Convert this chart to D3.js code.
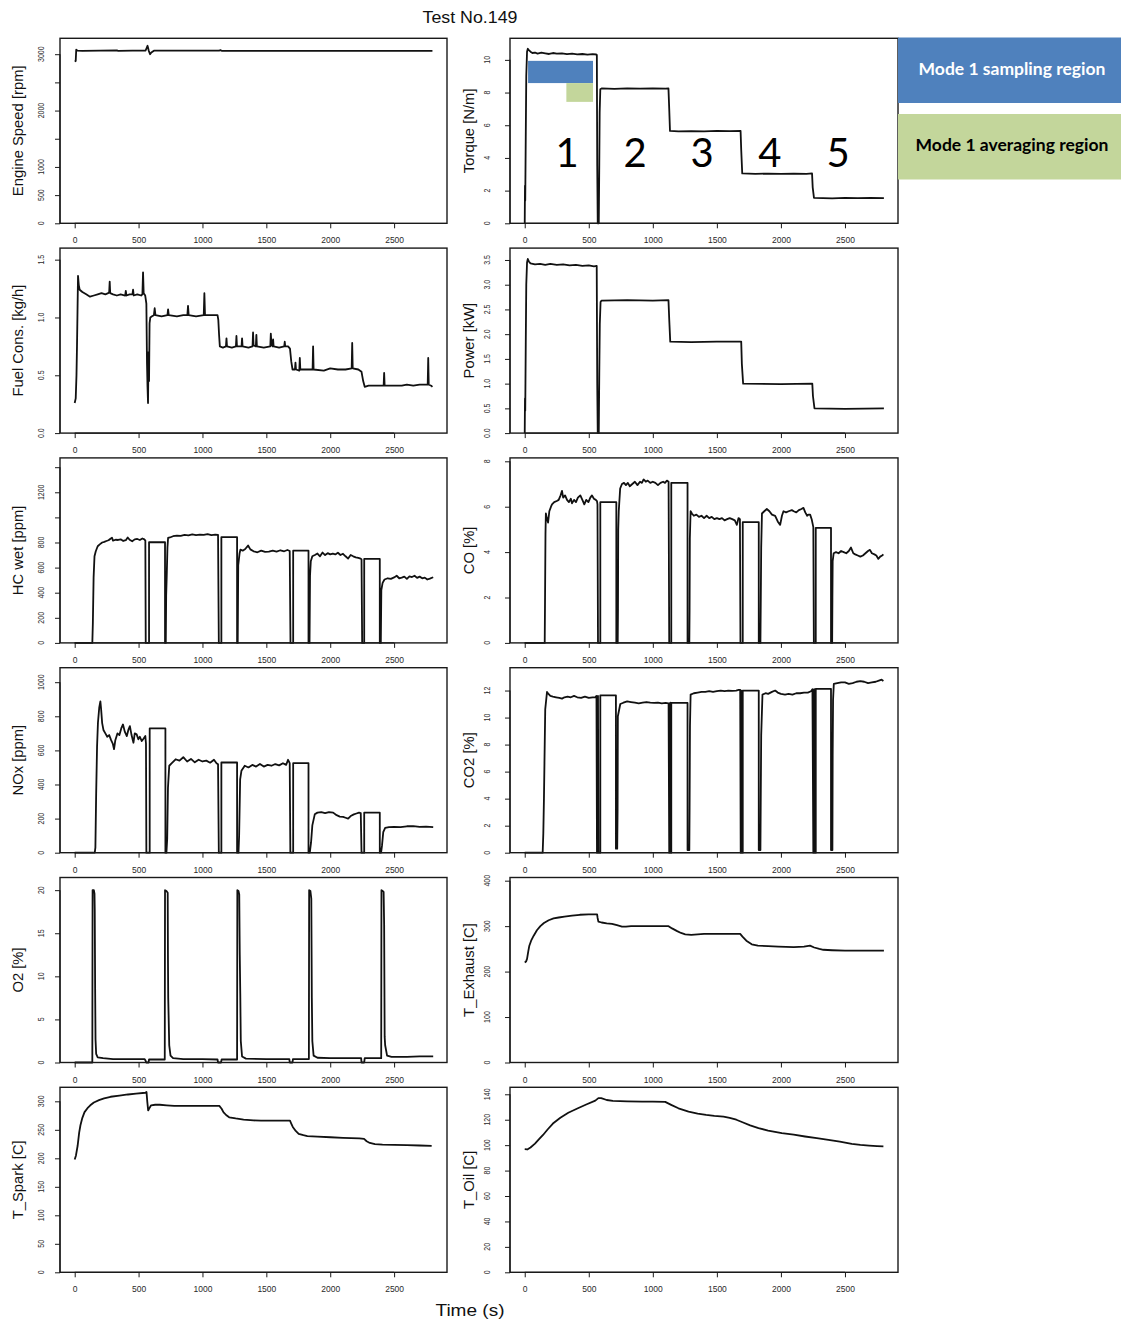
<!DOCTYPE html>
<html><head><meta charset="utf-8">
<script src="https://cdn.jsdelivr.net/npm/d3@7"></script>
<style>body{margin:0;background:#fff}svg{display:block}</style>
</head><body>
<svg id="chart" width="1121" height="1322"></svg>
<script>
// ---- time axis ----
const timeTicks = [0, 500, 1000, 1500, 2000, 2500];

// ---- measured channels, [time s, value] ----
const engineSpeed = [[0,2870],[8,2880],[12,3080],[20,3065],[60,3060],[200,3062],[330,3068],[340,3060],[450,3062],[555,3065],[570,3150],[580,3060],[590,3000],[600,3030],[620,3062],[1130,3062],[1140,3072],[1150,3060],[2800,3060]];

const torque = [[0,0],[2,2.3],[4,1.4],[8,5.3],[12,9.0],[18,10.5],[24,10.68],[32,10.6],[45,10.5],[60,10.42],[80,10.45],[100,10.38],[130,10.44],[160,10.4],[190,10.36],[220,10.42],[250,10.38],[290,10.4],[330,10.35],[370,10.38],[410,10.34],[450,10.36],[490,10.32],[530,10.35],[558,10.33],[563,10.3],[566,3.5],[570,0],[578,0],[582,3.6],[585,6.8],[590,8.2],[600,8.25],[700,8.23],[800,8.26],[900,8.24],[1000,8.25],[1100,8.24],[1122,8.25],[1128,7.0],[1134,5.65],[1200,5.62],[1300,5.64],[1400,5.63],[1500,5.65],[1600,5.64],[1685,5.66],[1690,4.5],[1698,3.05],[1800,3.02],[1900,3.04],[2000,3.03],[2100,3.04],[2200,3.03],[2243,3.05],[2248,2.2],[2258,1.55],[2400,1.53],[2500,1.55],[2600,1.54],[2700,1.55],[2804,1.54]];

const fuelCons = [[0,0.26],[8,0.3],[14,0.5],[18,0.75],[22,1.05],[26,1.36],[32,1.28],[39,1.24],[60,1.22],[90,1.2],[120,1.18],[150,1.19],[180,1.2],[210,1.21],[240,1.2],[262,1.21],[270,1.22],[274,1.31],[278,1.21],[300,1.2],[330,1.19],[360,1.2],[395,1.19],[400,1.23],[405,1.19],[430,1.2],[452,1.2],[457,1.24],[462,1.19],[490,1.2],[520,1.19],[530,1.2],[535,1.39],[540,1.21],[552,1.19],[561,1.12],[566,0.6],[570,0.4],[574,0.26],[578,0.7],[582,0.45],[586,0.95],[592,1.0],[605,1.01],[620,1.02],[626,1.08],[632,1.02],[680,1.01],[726,1.02],[731,1.07],[736,1.02],[800,1.01],[850,1.02],[882,1.02],[887,1.1],[892,1.02],[950,1.01],[1010,1.02],[1015,1.21],[1020,1.02],[1080,1.02],[1118,1.02],[1124,0.98],[1130,0.85],[1136,0.75],[1160,0.74],[1184,0.75],[1188,0.82],[1192,0.75],[1230,0.74],[1262,0.75],[1266,0.84],[1270,0.75],[1306,0.75],[1310,0.82],[1314,0.75],[1360,0.74],[1392,0.75],[1396,0.87],[1400,0.76],[1418,0.75],[1422,0.85],[1426,0.75],[1480,0.74],[1531,0.75],[1535,0.86],[1540,0.77],[1549,0.75],[1553,0.81],[1557,0.75],[1600,0.74],[1640,0.75],[1644,0.79],[1648,0.75],[1670,0.75],[1685,0.73],[1695,0.62],[1705,0.55],[1724,0.55],[1728,0.61],[1732,0.55],[1758,0.54],[1762,0.65],[1766,0.55],[1810,0.55],[1862,0.55],[1866,0.75],[1870,0.55],[1950,0.54],[2000,0.56],[2060,0.55],[2120,0.55],[2168,0.56],[2172,0.78],[2176,0.56],[2220,0.55],[2245,0.53],[2258,0.45],[2270,0.4],[2300,0.41],[2350,0.41],[2418,0.41],[2422,0.52],[2426,0.41],[2500,0.41],[2560,0.41],[2600,0.42],[2650,0.41],[2700,0.42],[2763,0.42],[2767,0.65],[2771,0.42],[2790,0.41],[2800,0.4]];

const power = [[0,0],[2,0.7],[4,0.45],[8,1.8],[12,3.0],[18,3.45],[24,3.52],[32,3.47],[45,3.43],[80,3.41],[120,3.42],[160,3.4],[200,3.42],[250,3.4],[300,3.41],[350,3.39],[400,3.4],[450,3.38],[500,3.39],[540,3.37],[562,3.38],[566,1.0],[570,0],[578,0],[582,1.2],[586,2.2],[592,2.65],[600,2.68],[800,2.69],[1000,2.68],[1122,2.69],[1128,2.3],[1136,1.85],[1300,1.84],[1500,1.85],[1690,1.85],[1695,1.4],[1705,1.0],[2000,0.99],[2245,1.0],[2250,0.75],[2262,0.5],[2500,0.49],[2804,0.5]];

const hcWet = [[0,0],[138,0],[142,150],[148,520],[155,690],[165,730],[180,770],[196,785],[215,800],[232,805],[248,812],[265,818],[280,830],[292,838],[300,815],[320,822],[340,820],[360,825],[380,812],[400,818],[415,840],[430,822],[450,810],[470,825],[490,828],[510,820],[530,832],[545,825],[553,815],[556,0],[582,0],[582,802],[707,802],[707,0],[713,0],[716,380],[720,520],[726,760],[731,836],[745,840],[770,850],[800,855],[830,852],[860,860],[890,856],[920,864],[950,858],[980,862],[1010,860],[1040,866],[1070,858],[1100,862],[1122,860],[1128,0],[1148,0],[1148,842],[1271,842],[1271,0],[1276,0],[1280,620],[1290,710],[1297,743],[1315,735],[1335,748],[1357,776],[1375,745],[1400,730],[1430,722],[1460,735],[1490,725],[1520,728],[1550,735],[1580,727],[1610,738],[1640,730],[1665,740],[1683,732],[1689,0],[1710,0],[1710,735],[1830,735],[1830,0],[1838,0],[1842,540],[1848,650],[1860,690],[1880,700],[1900,712],[1920,690],[1940,720],[1960,700],[1980,715],[2000,705],[2020,712],[2040,705],[2060,718],[2080,700],[2100,710],[2120,690],[2140,672],[2160,700],[2180,690],[2200,682],[2220,678],[2238,672],[2245,665],[2250,0],[2266,0],[2266,669],[2388,669],[2388,0],[2396,0],[2400,420],[2410,478],[2425,505],[2450,515],[2475,510],[2500,522],[2520,535],[2540,515],[2560,520],[2580,528],[2600,510],[2620,530],[2640,525],[2660,535],[2680,518],[2700,528],[2720,515],[2740,520],[2760,505],[2780,512],[2806,523]];

const coPct = [[0,0],[156,0],[158,1.5],[162,4.8],[165,5.7],[172,5.5],[182,5.3],[192,5.8],[205,6.0],[213,6.1],[230,6.2],[250,6.25],[265,6.3],[280,6.5],[291,6.7],[300,6.4],[315,6.5],[330,6.3],[345,6.2],[360,6.35],[369,6.15],[385,6.3],[400,6.2],[415,6.4],[434,6.5],[450,6.3],[465,6.1],[480,6.3],[497,6.2],[512,6.4],[525,6.5],[540,6.35],[555,6.3],[564,6.25],[568,6.1],[572,0],[590,0],[590,6.2],[715,6.2],[715,0],[726,0],[728,1.5],[730,5.0],[734,5.8],[745,6.8],[759,7.0],[775,7.05],[790,6.95],[805,7.05],[820,6.9],[840,7.0],[860,7.1],[880,6.95],[900,7.1],[915,7.05],[928,7.2],[945,7.1],[960,7.15],[980,7.05],[1000,7.1],[1020,7.05],[1040,6.95],[1060,7.05],[1080,7.1],[1095,7.05],[1110,7.15],[1123,7.1],[1128,0],[1144,0],[1144,7.05],[1271,7.05],[1271,0],[1285,0],[1287,1.5],[1289,4.6],[1295,5.8],[1305,5.7],[1320,5.6],[1340,5.65],[1360,5.55],[1380,5.6],[1400,5.5],[1420,5.6],[1440,5.5],[1460,5.55],[1480,5.45],[1500,5.5],[1520,5.45],[1540,5.5],[1560,5.4],[1580,5.45],[1600,5.5],[1620,5.45],[1640,5.4],[1656,5.2],[1669,5.5],[1680,5.45],[1684,0],[1702,0],[1702,5.32],[1827,5.32],[1827,0],[1840,0],[1843,2.0],[1846,4.2],[1852,5.7],[1870,5.8],[1890,5.9],[1910,5.8],[1930,5.65],[1955,5.6],[1975,5.35],[1994,5.2],[2008,5.6],[2020,5.8],[2040,5.75],[2060,5.8],[2085,5.85],[2100,5.8],[2120,5.75],[2140,5.85],[2160,5.9],[2176,5.95],[2190,5.75],[2205,5.6],[2215,5.65],[2228,5.65],[2240,5.45],[2253,5.1],[2257,0],[2272,0],[2272,5.07],[2391,5.07],[2391,0],[2400,0],[2402,2.0],[2404,3.6],[2412,3.95],[2430,4.0],[2450,3.95],[2470,4.05],[2490,4.0],[2510,3.95],[2530,4.05],[2547,4.2],[2565,3.95],[2580,3.9],[2600,3.85],[2620,3.8],[2640,3.85],[2660,3.95],[2680,4.05],[2695,4.1],[2710,3.95],[2730,3.9],[2745,3.85],[2760,3.7],[2775,3.8],[2790,3.85],[2800,3.9]];

const noxPpm = [[0,0],[157,0],[162,30],[168,345],[175,620],[182,762],[192,850],[201,888],[207,840],[215,760],[225,720],[240,700],[255,680],[270,690],[285,660],[298,640],[308,607],[318,660],[335,700],[350,690],[365,730],[378,752],[392,710],[408,684],[420,720],[432,742],[445,690],[460,645],[470,700],[485,694],[498,665],[510,680],[525,655],[540,670],[553,684],[558,640],[561,0],[587,0],[587,729],[710,729],[710,0],[718,0],[724,80],[730,380],[740,510],[760,525],[790,548],[820,540],[850,560],[880,535],[910,550],[940,530],[970,545],[1000,535],[1030,540],[1060,528],[1090,545],[1110,525],[1122,519],[1128,0],[1148,0],[1148,529],[1271,529],[1271,0],[1282,0],[1287,100],[1295,430],[1305,480],[1331,510],[1360,500],[1390,515],[1420,505],[1450,520],[1480,505],[1510,515],[1540,510],[1570,520],[1600,512],[1630,525],[1655,515],[1670,545],[1683,525],[1688,0],[1710,0],[1710,525],[1830,525],[1830,0],[1840,0],[1850,60],[1860,160],[1879,225],[1900,235],[1930,238],[1960,232],[1990,238],[2023,235],[2050,220],[2075,212],[2101,210],[2120,205],[2140,200],[2160,215],[2185,225],[2205,230],[2225,235],[2239,232],[2245,0],[2266,0],[2266,235],[2388,235],[2388,0],[2398,0],[2405,40],[2415,120],[2430,145],[2460,150],[2500,152],[2550,150],[2600,155],[2650,156],[2700,152],[2750,153],[2806,150]];

const co2Pct = [[0,0],[140,0],[145,1.4],[150,4.0],[160,10.6],[174,11.9],[185,11.75],[200,11.6],[220,11.55],[245,11.5],[270,11.45],[291,11.4],[310,11.5],[335,11.55],[360,11.5],[385,11.6],[410,11.5],[440,11.45],[470,11.55],[500,11.45],[530,11.5],[551,11.5],[560,11.6],[564,0],[570,0],[572,11.6],[575,0],[590,0],[590,11.64],[712,11.64],[712,0.3],[722,0.3],[725,3.2],[727,10.1],[746,11.0],[770,11.1],[800,11.2],[830,11.15],[860,11.1],[890,11.05],[920,11.1],[950,11.15],[980,11.1],[1010,11.08],[1040,11.1],[1070,11.05],[1100,11.08],[1123,11.05],[1128,0],[1134,0],[1136,11.1],[1139,0],[1144,0],[1144,11.08],[1271,11.08],[1271,0.2],[1285,0.2],[1287,3.3],[1290,9.4],[1295,11.7],[1320,11.8],[1350,11.85],[1380,11.9],[1410,11.9],[1440,11.95],[1470,11.9],[1500,11.95],[1530,12.0],[1560,11.95],[1590,12.0],[1620,11.98],[1650,12.0],[1670,12.05],[1682,12.05],[1686,0],[1692,0],[1694,12.0],[1697,0],[1702,0],[1702,12.0],[1827,12.0],[1827,0.2],[1840,0.2],[1843,4.6],[1846,8.7],[1856,11.7],[1880,11.8],[1900,11.75],[1930,11.9],[1955,12.0],[1975,11.85],[2000,11.75],[2032,11.7],[2060,11.75],[2090,11.7],[2120,11.8],[2150,11.8],[2180,11.85],[2210,11.85],[2235,11.95],[2246,12.1],[2253,0],[2258,0],[2260,12.1],[2263,0],[2272,0],[2272,12.13],[2391,12.13],[2391,0.2],[2402,0.2],[2404,7.2],[2407,11.3],[2413,12.5],[2440,12.55],[2470,12.6],[2500,12.6],[2530,12.5],[2560,12.55],[2590,12.65],[2620,12.7],[2650,12.65],[2680,12.55],[2710,12.6],[2740,12.65],[2770,12.75],[2786,12.8],[2800,12.7]];

const o2Pct = [[0,0],[138,0],[140,20],[150,20],[155,19.6],[157,17.7],[160,8.6],[163,2.7],[168,1.0],[180,0.6],[222,0.5],[300,0.4],[400,0.4],[548,0.4],[555,0.2],[560,0],[578,0],[582,0.35],[705,0.35],[707,20],[718,19.9],[728,19.7],[730,12],[732,7.5],[735,5.5],[740,2.0],[750,0.8],[770,0.5],[850,0.4],[1000,0.4],[1118,0.35],[1122,0],[1145,0],[1150,0.35],[1271,0.35],[1273,20],[1282,19.9],[1288,19.5],[1292,12.5],[1296,8],[1300,2.5],[1310,0.7],[1340,0.45],[1500,0.4],[1680,0.4],[1683,0],[1705,0],[1708,0.4],[1833,0.4],[1835,20],[1845,19.9],[1852,19.0],[1856,7.5],[1860,2.5],[1870,0.8],[1900,0.55],[2000,0.5],[2242,0.5],[2245,0],[2266,0],[2270,0.5],[2399,0.5],[2401,20],[2410,19.9],[2418,19.8],[2422,16],[2426,3],[2430,2],[2445,0.8],[2480,0.65],[2600,0.65],[2700,0.7],[2806,0.7]];

const tExhaust = [[0,220],[10,222],[18,228],[28,245],[36,257],[50,268],[70,279],[95,291],[122,300],[150,307],[187,313],[225,317],[265,319],[310,321],[369,323],[430,325],[499,326],[565,326],[569,318],[575,310],[600,308],[640,306],[681,305],[720,302],[759,299],[790,299],[830,300],[900,300],[1000,300],[1123,300],[1150,295],[1190,289],[1220,285],[1253,282],[1300,281],[1350,282],[1400,283],[1500,283],[1600,283],[1682,283],[1700,277],[1730,268],[1772,260],[1820,257],[1900,256],[1980,255],[2100,254],[2180,255],[2227,257],[2260,253],[2300,250],[2331,248],[2400,247],[2500,246],[2600,246],[2700,246],[2804,246]];

const tSpark = [[0,198],[10,205],[23,222],[35,245],[45,258],[60,271],[77,281],[100,288],[122,293],[150,298],[190,302],[230,305],[281,308],[350,310],[417,312],[480,313.5],[553,315],[562,316.5],[568,300],[575,284],[585,288],[598,293],[630,294],[666,294],[720,293],[779,292],[900,292],[1000,292],[1132,292],[1150,287],[1164,281],[1185,276],[1209,272],[1260,270],[1322,268],[1400,266.5],[1458,266],[1600,266],[1685,266],[1695,261],[1707,255],[1730,248],[1753,243],[1790,240.5],[1821,239],[1900,238],[2002,237],[2100,236],[2228,235],[2265,234],[2285,230],[2310,227],[2350,225],[2409,224],[2500,223.5],[2600,223],[2700,222.5],[2794,222]];

const tOil = [[0,96.8],[20,96.6],[45,98.2],[80,101.2],[110,104.5],[143,108],[180,112.5],[220,117],[278,121.5],[340,125.5],[415,129],[480,132],[551,135],[575,137],[597,137],[640,135.5],[688,134.8],[800,134.5],[916,134.3],[1000,134.2],[1097,134],[1143,131.7],[1200,129],[1279,126.4],[1350,124.8],[1416,123.8],[1480,123],[1552,122.5],[1600,121.5],[1652,120],[1700,118],[1760,115.5],[1825,113.4],[1900,111.5],[2007,109.4],[2100,108.2],[2188,106.8],[2280,105.5],[2371,104.2],[2460,102.8],[2553,101],[2620,100.2],[2689,99.7],[2750,99.3],[2800,99]];

// ---- y tick values and the labels that R printed for them ----
const speedTicks = [0,500,1000,1500,2000,2500,3000];
const speedTickLabels = ["0","500","1000","","2000","","3000"];
const torqueTicks = [0,2,4,6,8,10];
const fuelTicks = [0,0.5,1.0,1.5];
const powerTicks = [0,0.5,1.0,1.5,2.0,2.5,3.0,3.5];
const hcTicks = [0,200,400,600,800,1000,1200,1400];
const hcTickLabels = ["0","200","400","600","800","","1200",""];
const coTicks = [0,2,4,6,8];
const noxTicks = [0,200,400,600,800,1000];
const co2Ticks = [0,2,4,6,8,10,12];
const o2Ticks = [0,5,10,15,20];
const exhaustTicks = [0,100,200,300,400];
const sparkTicks = [0,50,100,150,200,250,300];
const oilTicks = [0,20,40,60,80,100,120,140];

// ---- mode annotations on the torque panel (time s, N·m) ----
const modeNames = ["1","2","3","4","5"];
const modeLabelTime = [330, 862, 1384, 1914, 2446];
const modeLabelLevel = 3.43;
const samplingSpan = [26, 533];     // time range of the mode-1 sampling window
const samplingLevels = [8.58, 9.94];
const averagingSpan = [325, 533];   // time range of the mode-1 averaging window
const averagingLevels = [7.43, 8.58];

const fmt1 = d3.format(".1f");
const panels = [
  {title:"Engine Speed [rpm]", data:engineSpeed, top:3282, ticks:speedTicks, labels:speedTickLabels},
  {title:"Torque [N/m]", data:torque, top:11.32, ticks:torqueTicks},
  {title:"Fuel Cons. [kg/h]", data:fuelCons, top:1.60, ticks:fuelTicks, fmt:fmt1},
  {title:"Power [kW]", data:power, top:3.74, ticks:powerTicks, fmt:fmt1},
  {title:"HC wet [ppm]", data:hcWet, top:1474, ticks:hcTicks, labels:hcTickLabels},
  {title:"CO [%]", data:coPct, top:8.15, ticks:coTicks},
  {title:"NOx [ppm]", data:noxPpm, top:1085, ticks:noxTicks},
  {title:"CO2 [%]", data:co2Pct, top:13.69, ticks:co2Ticks},
  {title:"O2 [%]", data:o2Pct, top:21.47, ticks:o2Ticks},
  {title:"T_Exhaust [C]", data:tExhaust, top:407, ticks:exhaustTicks},
  {title:"T_Spark [C]", data:tSpark, top:324.6, ticks:sparkTicks},
  {title:"T_Oil [C]", data:tOil, top:145.5, ticks:oilTicks}
];

// ---- layout ----
const svg = d3.select("#chart");
const colX = [[60, 447], [510, 898]];
const rowTop0 = 38.3, rowStep = 209.8, boxH = 185;
const tickLabelOffset = [18.3, 22.7];
const titleX = [19, 470];
const sansR = "'Liberation Sans', Arial, sans-serif";
const ink = "#1a1a1a";

let torqueScales = null;

panels.forEach((p, i) => {
  const col = i % 2, row = Math.floor(i / 2);
  const [x0, x1] = colX[col];
  const yT = rowTop0 + row * rowStep, yB = yT + boxH;
  const x = d3.scaleLinear().domain([-115, 2914]).range([x0, x1]);
  const y = d3.scaleLinear().domain([0, p.top]).range([yB, yT]);
  const g = svg.append("g");

  // data trace
  g.append("path")
    .datum(p.data)
    .attr("fill", "none")
    .attr("stroke", "#111")
    .attr("stroke-width", 1.8)
    .attr("stroke-linejoin", "round")
    .attr("d", d3.line().x(d => x(d[0])).y(d => y(d[1])));

  // frame
  g.append("rect").attr("x", x0).attr("y", yT).attr("width", x1 - x0).attr("height", boxH)
    .attr("fill", "none").attr("stroke", ink).attr("stroke-width", 1.4);

  // x axis
  const xa = d3.axisBottom(x).tickValues(timeTicks).tickSize(5).tickFormat(d3.format("d"));
  const xg = g.append("g").attr("transform", `translate(0,${yB})`).call(xa);
  xg.select(".domain").attr("d", `M${x(0)},0H${x(2500)}`).attr("stroke", ink).attr("stroke-width", 1.2);
  xg.selectAll(".tick line").attr("stroke", ink).attr("stroke-width", 1);
  xg.selectAll(".tick text").attr("y", 14).attr("font-family", sansR).attr("font-size", 8.5).attr("fill", "#2a2a2a");

  // y axis
  const ya = d3.axisLeft(y).tickValues(p.ticks).tickSize(5);
  const yg = g.append("g").attr("transform", `translate(${x0},0)`).call(ya);
  yg.select(".domain").attr("d", `M0,${y(p.ticks[0])}V${y(p.ticks[p.ticks.length - 1])}`).attr("stroke", ink).attr("stroke-width", 1.2);
  yg.selectAll(".tick line").attr("stroke", ink).attr("stroke-width", 1);
  yg.selectAll(".tick text").remove();
  p.ticks.forEach((v, k) => {
    const lab = p.labels ? p.labels[k] : (p.fmt ? p.fmt(v) : String(v));
    if (!lab) return;
    g.append("text")
      .attr("transform", `translate(${x0 - tickLabelOffset[col]},${y(v)}) rotate(-90) scale(0.78,1)`)
      .attr("text-anchor", "middle").attr("dominant-baseline", "middle")
      .attr("font-family", sansR).attr("font-size", 9).attr("fill", "#2a2a2a")
      .text(lab);
  });

  // axis title
  g.append("text")
    .attr("transform", `translate(${titleX[col]},${(yT + yB) / 2}) rotate(-90)`)
    .attr("text-anchor", "middle").attr("dominant-baseline", "middle")
    .attr("font-family", sansR).attr("font-size", 14.8).attr("fill", "#111")
    .text(p.title);

  if (i === 1) torqueScales = {x, y};
});

// ---- mode annotations in the torque panel ----
{
  const {x, y} = torqueScales;
  svg.append("rect")
    .attr("x", x(samplingSpan[0])).attr("width", x(samplingSpan[1]) - x(samplingSpan[0]))
    .attr("y", y(samplingLevels[1])).attr("height", y(samplingLevels[0]) - y(samplingLevels[1]))
    .attr("fill", "#4f81bd");
  svg.append("rect")
    .attr("x", x(averagingSpan[0])).attr("width", x(averagingSpan[1]) - x(averagingSpan[0]))
    .attr("y", y(averagingLevels[1])).attr("height", y(averagingLevels[0]) - y(averagingLevels[1]))
    .attr("fill", "#c3d69b");
  svg.selectAll("text.mode").data(modeNames).join("text")
    .attr("class", "mode")
    .attr("x", (d, k) => x(modeLabelTime[k])).attr("y", y(modeLabelLevel))
    .attr("text-anchor", "middle")
    .attr("font-family", "Lato, 'Open Sans', sans-serif").attr("font-size", 40).attr("fill", "#000")
    .text(d => d);
}

// ---- legend boxes ----
const legendItems = ["Mode 1 sampling region", "Mode 1 averaging region"];
const legendFill = ["#4f81bd", "#c3d69b"];
const legendInk = ["#ffffff", "#000000"];
const lg = svg.append("g");
legendItems.forEach((t, k) => {
  const top = 37.5 + k * 76.5;
  lg.append("rect").attr("x", 898).attr("y", top).attr("width", 223).attr("height", 65.5).attr("fill", legendFill[k]);
  lg.append("text").attr("x", 1012).attr("y", top + 33).attr("text-anchor", "middle").attr("dominant-baseline", "middle")
    .attr("font-family", "Lato, 'Open Sans', sans-serif").attr("font-weight", 700).attr("font-size", 17.5)
    .attr("fill", legendInk[k]).text(t);
});

// ---- overall labels ----
svg.append("text").attr("x", 470).attr("y", 23).attr("text-anchor", "middle")
  .attr("font-family", sansR).attr("font-size", 16.5).attr("fill", "#111")
  .attr("transform", "translate(470,0) scale(1.08,1) translate(-470,0)")
  .text("Test No.149");
svg.append("text").attr("x", 470).attr("y", 1316).attr("text-anchor", "middle")
  .attr("font-family", sansR).attr("font-size", 17).attr("fill", "#111")
  .attr("transform", "translate(470,0) scale(1.12,1) translate(-470,0)")
  .text("Time (s)");
</script>
</body></html>
